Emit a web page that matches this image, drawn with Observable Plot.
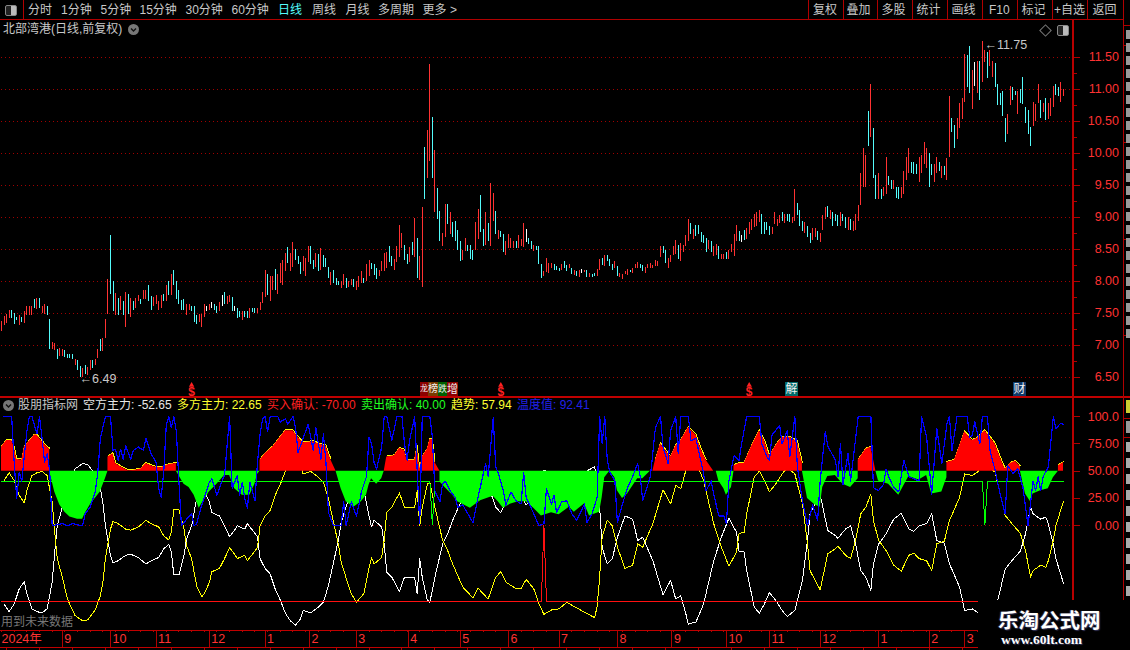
<!DOCTYPE html>
<html><head><meta charset="utf-8">
<script src="https://cdn.jsdelivr.net/npm/d3@7"></script>
<script src="https://cdn.jsdelivr.net/npm/@observablehq/plot@0.6"></script>
<style>
html,body{margin:0;background:#000;overflow:hidden}
#page{position:relative;width:1130px;height:650px;background:#000;overflow:hidden;font:12px "Liberation Sans","Noto Sans CJK SC",sans-serif;color:#ccc}
#page svg{position:absolute;left:0}
.t{position:absolute;white-space:pre;line-height:14px}
.b{position:absolute;background:#b00000}
</style></head><body><div id="page"></div>
<script>
const barHigh=[
7.37,7.45,7.48,7.55,7.55,7.50,7.44,7.46,7.44,7.52,7.60,7.61,7.61,7.72,7.73,7.73,7.60,7.64,7.61,7.40,
7.05,7.03,6.93,6.95,6.94,6.91,6.86,6.85,6.85,6.77,6.76,6.66,6.63,6.68,6.65,6.76,6.76,6.78,6.93,7.09,
7.10,7.40,8.02,8.72,8.00,7.81,7.73,7.76,7.69,7.83,7.80,7.73,7.68,7.73,7.77,7.72,7.85,7.86,7.93,7.76,
7.74,7.77,7.69,7.77,7.79,7.94,8.00,8.11,8.16,8.00,7.86,7.70,7.71,7.63,7.64,7.61,7.60,7.46,7.48,7.48,
7.63,7.60,7.64,7.66,7.64,7.61,7.66,7.77,7.83,7.76,7.77,7.74,7.61,7.58,7.52,7.52,7.52,7.52,7.57,
7.58,7.57,7.57,7.66,7.83,8.16,8.11,8.08,8.08,8.19,8.11,8.27,8.32,8.44,8.52,8.44,8.61,8.49,8.38,8.29,
8.38,8.35,8.54,8.54,8.32,8.43,8.41,8.51,8.40,8.36,8.22,8.13,8.16,8.05,8.00,8.00,8.11,8.04,7.99,8.02,
8.02,7.99,8.08,8.15,8.05,8.26,8.33,
8.27,8.26,8.20,8.17,8.31,8.43,8.45,8.54,8.39,8.34,8.54,8.87,8.74,8.56,8.42,8.53,8.60,8.98,8.67,8.39,
9.15,10.09,10.35,11.39,10.56,10.04,9.45,9.09,8.74,9.20,9.20,9.07,8.92,8.93,8.79,8.62,8.48,8.67,8.56,8.56,
8.48,8.92,9.12,9.34,8.81,9.07,8.90,9.53,9.37,9.09,8.79,8.78,8.73,8.62,8.73,8.67,8.62,8.62,8.71,8.65,
8.90,8.81,8.67,8.62,8.56,8.54,8.54,8.26,8.15,8.35,8.28,8.28,8.26,8.23,8.20,8.26,8.31,8.25,8.26,8.20,
8.17,8.15,8.17,8.18,8.17,8.17,8.12,8.10,8.12,8.18,8.34,8.35,8.40,8.40,8.34,8.26,8.31,8.23,8.12,8.10,
8.15,8.18,8.17,8.20,8.26,8.29,8.26,8.25,8.21,8.26,8.28,8.25,8.32,8.31,8.54,8.54,8.48,8.35,8.40,8.54,
8.64,8.56,8.59,8.56,8.71,8.96,8.90,8.81,8.87,8.87,8.76,8.71,8.67,8.64,8.62,8.54,8.57,8.54,8.42,8.42,
8.45,8.48,8.57,8.73,8.87,8.78,
8.72,8.79,8.83,8.92,8.96,9.05,9.07,9.10,9.05,8.92,8.91,8.86,8.84,9.08,8.96,9.03,9.08,9.05,9.04,9.05,
8.99,9.43,9.22,9.10,8.94,8.91,8.85,8.75,8.83,8.83,8.77,8.75,9.02,9.15,9.16,9.11,9.07,9.04,9.03,9.07,
9.04,8.99,8.99,8.97,8.94,9.04,9.18,9.68,10.08,9.96,10.65,11.07,10.38,9.65,9.69,9.43,9.47,9.94,9.63,9.57,
9.57,9.47,9.47,9.47,9.72,9.93,10.07,9.85,9.85,9.83,9.93,9.96,10.16,10.07,9.99,9.82,9.82,9.94,9.86,9.80,
9.79,9.91,10.88,10.55,10.44,10.54,10.77,10.85,11.54,11.52,11.66,11.30,11.41,11.43,11.43,11.75,11.61,11.58,11.60,11.43,
11.40,11.08,10.93,10.96,10.54,10.61,11.04,11.02,10.96,10.97,10.99,11.18,10.71,10.66,10.40,10.79,10.76,11.08,10.82,10.77,
10.86,10.77,10.85,11.04,11.07,11.02,11.10,10.99];
const barLow=[
7.22,7.31,7.34,7.41,7.41,7.32,7.38,7.31,7.36,7.34,7.47,7.47,7.47,7.57,7.56,7.57,7.50,7.48,7.47,6.94,
6.94,6.92,6.77,6.82,6.82,6.81,6.80,6.80,6.78,6.68,6.60,6.49,6.49,6.55,6.52,6.60,6.64,6.69,6.79,6.90,
6.90,7.11,7.48,7.80,7.52,7.47,7.46,7.54,7.46,7.28,7.48,7.43,7.55,7.57,7.68,7.63,7.72,7.72,7.68,7.55,
7.61,7.64,7.54,7.58,7.68,7.69,7.77,7.77,7.94,7.72,7.64,7.54,7.55,7.47,7.54,7.52,7.36,7.32,7.36,7.28,
7.44,7.52,7.54,7.57,7.55,7.50,7.52,7.61,7.63,7.63,7.66,7.52,7.52,7.41,7.44,7.38,7.44,7.41,7.41,
7.51,7.49,7.49,7.54,7.65,7.74,7.77,7.68,7.86,7.86,7.80,7.97,7.94,8.15,8.27,8.15,8.22,8.32,8.26,8.10,
8.15,8.08,8.29,8.26,8.19,8.21,8.15,8.16,8.22,8.21,8.04,7.94,7.97,7.94,7.93,7.89,7.93,7.88,7.90,7.94,
7.90,7.86,7.90,7.97,7.96,8.00,8.08,
8.18,8.09,8.03,8.07,8.15,8.15,8.20,8.29,8.23,8.17,8.29,8.37,8.51,8.32,8.26,8.29,8.40,8.37,8.04,8.01,
7.90,9.28,9.60,9.87,9.60,9.07,8.96,8.62,8.54,8.68,8.89,8.73,8.68,8.62,8.48,8.31,8.32,8.46,8.46,8.34,
8.32,8.48,8.65,8.76,8.54,8.56,8.62,8.54,8.93,8.73,8.65,8.68,8.45,8.40,8.51,8.51,8.51,8.51,8.51,8.54,
8.53,8.60,8.57,8.49,8.46,8.48,8.26,8.04,8.07,8.14,8.12,8.20,8.17,8.17,8.15,8.17,8.20,8.15,8.20,8.10,
8.09,8.07,8.06,8.12,8.14,8.06,8.06,8.06,8.07,8.07,8.17,8.24,8.23,8.31,8.23,8.17,8.20,8.07,8.06,8.03,
8.10,8.09,8.14,8.12,8.20,8.20,8.20,8.15,8.12,8.20,8.20,8.20,8.23,8.23,8.37,8.43,8.28,8.20,8.29,8.40,
8.42,8.34,8.31,8.45,8.54,8.62,8.73,8.65,8.70,8.73,8.60,8.59,8.45,8.50,8.45,8.39,8.40,8.34,8.34,8.34,
8.34,8.34,8.45,8.39,8.62,8.62,
8.61,8.63,8.65,8.73,8.80,8.84,8.86,8.92,8.73,8.73,8.79,8.72,8.73,8.89,8.86,8.90,8.94,8.90,8.93,8.91,
8.90,8.94,9.02,8.86,8.77,8.75,8.69,8.59,8.63,8.69,8.63,8.61,8.79,8.97,9.00,8.96,8.86,8.94,8.86,8.85,
8.93,8.82,8.79,8.80,8.77,8.80,8.93,9.18,9.47,9.46,10.11,10.24,9.60,9.27,9.27,9.27,9.33,9.35,9.49,9.44,
9.43,9.29,9.27,9.29,9.36,9.57,9.69,9.68,9.66,9.66,9.54,9.68,9.83,9.76,9.47,9.65,9.55,9.68,9.72,9.60,
9.65,9.57,9.94,10.33,10.08,10.21,10.38,10.52,10.79,11.02,10.93,10.68,11.05,10.93,10.82,11.10,11.41,11.16,11.35,11.18,
11.02,10.74,10.74,10.58,10.16,10.29,10.74,10.82,10.90,10.61,10.77,10.76,10.46,10.30,10.11,10.41,10.49,10.77,10.54,10.63,
10.51,10.52,10.57,10.72,10.90,10.88,10.80,10.88];
// u = up day, d = down day, f = flat day
const barMove=[
"uuuudddudu","uuududuudd","uuduuddddu","dduduuduud","uuuddududu","duduuduudd","uuuudududd","ddduuddduu","ufufddufdu","udfdduddu",
"dduuuuduud","uuuuduuddd","uuuddududd","duddduuduu","duuuduu",
"ddduuuuddu","uuuddududu","uduududduu","dudddduudd","duudduduud","udduuuuduu","ufdduddduu","uuddduddud","udufududdu","ududdduduu","uuduuudduu","uuuuudduuu","uduuuududd","ddduduuduu","duuuud",
"fduuuuuudd","dduuuududd","uudddudduu","duuududddu","dduduuuuuu","dudduduudd","udduuuuddd","uuuudduudu","duudduuuud","dufuduuduu","ddddduuddu","ddddduuudu","duuudduu"
].join("").split("");
const priceTicks=[6.5,7,7.5,8,8.5,9,9.5,10,10.5,11,11.5];
const priceMinorTicks=[6.75,7.25,7.75,8.25,8.75,9.25,9.75,10.25,10.75,11.25];
const indicatorTicks=[0,25,50,75,100];
const signalDays=[75,197,295];

const longShortDay=[1,3,5,7,9,10,12,14,16,18,20,21,22,24,26,29,32,34,37,39,40,41,43,44,46,49,51,54,57,59,62,64,66,67,68,70,72,73,75,77,79,80,82,83,86,88,90,92,93,96,97,100,101,102,104,106,108,110,112,114,116,118,119,122,125,127,129,131,133,134,136,138,140,143,145,
146,147,150,151,152,154,157,159,163,164,165,166,168,169,171,174,176,178,182,186,188,192,195,197,199,203,205,207,210,212,214,217,220,223,226,230,234,235,236,237,239,241,243,246,249,251,253,257,261,264,266,268,270,271,274,277,281,284,287,290,
291,293,294,297,299,301,303,306,308,310,313,316,318,319,321,323,326,329,330,333,335,337,339,341,343,344,346,349,352,355,358,360,362,365,367,369,372,374,375,378,380,383,385,388,392,394,396,399,402,404,406,407,410,412,413,415,416,419];
const longForce=[41.5,48.5,41.5,27.7,21,32,46,48.5,49.7,46,21.6,-5.8,-30,-47,-67,-82,-87,-86,-77,-64,-51.5,-30,-3,4,2,-3,-4,-1,5,2,-1,-9,-13,-6,15,15,-3,-18,-30,-55,-65,-62,-52,-42,-39,-30,-20,-26,-30,-27,-32,-23,-20,0,9,14,28,38,50,57,61,55,47.5,49.7,44.5,40,24.7,3.4,-18,-33,-48,-62,-70,-62,-39,
-29,-35,-29,-13,12.5,17,30,17,17,32,0,17,38,40,17,-13,-22.5,-35,-56,-66,-57,-67,-47,-42,-51.5,-57.6,-57.6,-49,-57.6,-71,-81,-77,-76,-70,-74,-79,-84,-74,-47,-10,5,0,-19.5,-39,-36,-16.5,-19.5,2,33,20,37,34,50.6,60,58,41.5,2,-19.5,-37,-24,
-7,-6,11,44.5,50,41.5,31,40,47.5,53,47.5,20,-16.5,-41,-50,-58.5,-25.6,-21,-18.6,-27,-30,-13,11,17,29,5,-13,-22.6,-36,-41.5,-27,-25,-30,-32,-41,-16.5,-14,5,10,26,47.5,46,49,57,49,29,9.5,1,-7,-22.6,-47,-41,-36,-38,-32,-13,0,22.65];
const shortForce=[-71.5,-78.5,-71.5,-57.7,-51,-62,-76,-78.5,-79.7,-76,-51.6,-24.2,0,17,37,52,57,56,47,34,21.5,0,-27,-34,-32,-27,-26,-29,-35,-32,-29,-21,-17,-24,-45,-45,-27,-12,0,25,35,32,22,12,9,0,-10,-4,0,-3,2,-7,-10,-30,-39,-44,-58,-68,-80,-87,-91,-85,-77.5,-79.7,-74.5,-70,-54.7,-33.4,-12,3,18,32,40,32,9,
-1,5,-1,-17,-42.5,-47,-60,-47,-47,-62,-30,-47,-68,-70,-47,-17,-7.5,5,26,36,27,37,17,12,21.5,27.6,27.6,19,27.6,41,51,47,46,40,44,49,54,44,17,-20,-35,-30,-10.5,9,6,-13.5,-10.5,-32,-63,-50,-67,-64,-80.6,-90,-88,-71.5,-32,-10.5,7,-6,
-23,-24,-41,-74.5,-80,-71.5,-61,-70,-77.5,-83,-77.5,-50,-13.5,11,20,28.5,-4.4,-9,-11.4,-3,0,-17,-41,-47,-59,-35,-17,-7.4,6,11.5,-3,-5,0,2,11,-13.5,-16,-35,-40,-56,-77.5,-76,-79,-87,-79,-59,-39.5,-31,-23,-7.4,17,11,6,8,2,-17,-30,-52.65];

const trendDay=[0,2,4,5,6,8,9,12,13,14,16,18,19,19,21,23,25,27,30,32,33,35,37,39,41,42,42,44,45,47,50,52,55,57,60,63,66,69,69,72,74,76,78,79,82,85,88,90,92,95,98,100,101,102,102,104,107,110,112,115,117,119,123,125,128,130,132,134,136,139,142,144,145,146,148,150,151,152,155,157,159,160,163,164,165,166,168,169,170,171,173,173,175,178,180,185,189,194,196,198,201,204,207,210,213,217,220,224,226,230,232,236,237,238,240,242,243,245,247,251,253,256,257,258,260,262,264,266,268,271,274,276,278,281,282,283,285,286,288,289,289,291,293,296,299,301,303,306,308,311,314,316,316,318,321,323,324,326,329,332,335,338,338,338,341,343,345,346,350,354,358,362,365,367,371,373,373,373,376,380,383,385,388,392,395,396,398,400,402,402,404,406,407,410,413,415,417,417,419];
const trendValue=[72,78,78,72,61,60,72,80,83,83,77,72,70,50,31,19,12.5,8,6,6,11,19,25,31,43,50,63,66,57,54,50.3,50.5,52,57,54,53,56,57,50,38,35,28,16,20,31,38,46,46,34,28,28,38,47,50,60,66,72,81,87,87,81,76,77,75,73,60,50,34,22,17,22,28,37,43,38,43,50,63,64,71,69,60,60,73,52,63,70,79,79,58,50,40,35,28,22,16,23,27,22,16,20,22,22,16,9,12,10,17,12.5,20,9,12.5,26,44,50,44,32,25,29,43,43,50,50,60,75,69,63,73,78,90,83,70,60,50,50,41,34,28,35,50,55,57,57,73,87,78,64,75,81,81,77,57,50,25,19,17,35,45,46,38,35,43,50,60,70,72,50,41,38,28,45,42,46,29,31,44,50,58,60,86,78,80,87,75,57,52,57,59,54,50,29,22,29,32,34,44,50,55,57.94];

const heatDay=[1,4,5,6,7,8,9,10,11,12,14,15,16,17,18,19,20,24,26,28,32,33,35,37,38,39,41,43,44,45,46,47,48,49,51,52,54,56,57,59,61,62,63,64,65,66,67,68,69,70,71,73,75,76,77,79,82,83,85,87,88,89,90,91,93,94,95,96,97,98,100,101,102,103,104,105,106,109,110,112,113,115,116,117,119,121,123,124,126,127,128,129,131,134,135,136,138,140,141,142,144,145,
146,147,148,150,151,152,154,156,158,159,160,161,163,165,166,169,170,171,173,174,175,177,179,180,182,184,186,188,191,192,194,195,196,198,199,201,203,205,206,207,210,212,214,215,217,218,219,221,223,225,227,230,231,233,235,236,237,238,239,240,242,243,245,247,249,251,252,253,256,258,260,261,263,264,266,267,268,271,272,274,275,277,278,280,281,283,285,286,287,289,291,
292,294,299,300,302,303,304,307,308,310,311,313,314,316,318,320,322,323,325,326,329,330,331,332,334,335,338,343,344,346,348,349,350,352,354,356,358,360,362,363,365,367,369,371,373,374,375,377,381,382,383,384,386,387,389,390,392,394,396,397,399,401,403,405,407,408,409,410,411,413,415,416,418,419];
const heatValue=[100,100,58,25,49,41,64,86,100,100,84,100,80,58,66,51,0,2,0,2,0,11,17,31,49,80,100,100,69,70,60,70,61,73,61,69,72,69,80,66,58,34,26,49,92,100,90,100,86,40,0,6,11,0,2,19,40,43,28,41,46,73,100,34,46,28,40,25,16,40,23,58,83,98,100,86,100,100,95,98,93,100,90,67,80,93,69,90,61,84,58,12,0,0,22,0,22,9,19,31,45,81,
75,58,52,72,100,100,78,100,100,75,60,78,100,2,100,100,81,32,22,38,41,32,26,17,19,11,3,26,57,45,99,54,48,32,19,31,23,20,49,26,11,0,2,34,20,28,12,22,23,11,5,20,3,11,26,100,75,100,60,49,41,3,20,35,45,57,45,23,45,90,100,72,57,87,100,66,100,100,78,80,69,48,32,41,29,9,9,2,41,64,60,
75,100,100,75,63,60,83,92,75,87,63,100,54,23,0,19,5,41,86,73,60,45,75,38,66,41,100,100,35,32,38,52,45,35,31,60,45,43,41,100,81,29,89,57,93,100,69,100,100,81,83,95,75,100,100,69,51,29,11,55,48,52,35,0,41,32,45,32,45,54,100,89,94,92.41];

const buyDay=[0,213,214,215,419];
const buyConfirm=[-70,-70,0,-70,-70];
const sellDay=[0,169,170,171,387,388,389,419];
const sellConfirm=[40,40,0,40,40,0,40,40];

const monthDay=[24,43,61,82,104,121.5,140,160.5,181,200,220,243,264.5,286,303,323,346,366,380];
const monthLabel=["9","10","11","12","1","2","3","4","5","6","7","8","9","10","11","12","1","2","3"];

const LAST=419;
const bars=barHigh.map((h,i)=>({day:i,high:h,low:barLow[i],move:barMove[i]||"u"}));
const zipDV=(d,v)=>d.map((x,i)=>({day:x,v:v[i]}));
const xOpt={domain:[0,LAST],range:[1,1063],axis:null};
const RED="#ff3232",LINE="#b00000",GRID="#a00000";
const crisp={shapeRendering:"crispEdges"};
const base={width:1130,marginLeft:0,marginRight:57,marginTop:0,marginBottom:0,
  style:{background:"transparent",color:"#ccc",fontFamily:'"Liberation Sans","Noto Sans CJK SC",sans-serif',fontSize:"12px",overflow:"visible"}};

const priceChart=Plot.plot({...base,height:396,
  x:xOpt,y:{domain:[6.5,11.5],range:[376.7,56.7],axis:null},
  color:{domain:["u","d","f"],range:["#ff3232","#54fcfc","#ffffff"]},
  marks:[
    Plot.ruleY(priceTicks,{x1:0,x2:LAST+4,stroke:GRID,strokeDasharray:"1,3",...crisp}),
    Plot.axisY(priceMinorTicks,{anchor:"right",label:null,tickSize:3,stroke:LINE,tickFormat:()=>"",...crisp}),
    Plot.axisY(priceTicks,{anchor:"right",label:null,tickSize:5.5,tickPadding:40,textAnchor:"end",stroke:LINE,fill:RED,tickFormat:d=>d.toFixed(2),fontSize:12.5,...crisp}),
    Plot.ruleX(bars,{x:"day",y1:"low",y2:"high",stroke:"move",strokeWidth:1,...crisp}),
    Plot.text([{day:32,p:6.49,s:"←6.49"}],{x:"day",y:"p",text:"s",textAnchor:"start",fill:"#c8c8c8",fontSize:12.5,dx:-3,dy:1}),
    Plot.text([{day:387,p:11.75,s:"←11.75"}],{x:"day",y:"p",text:"s",textAnchor:"start",fill:"#c8c8c8",fontSize:12.5,dx:2,dy:4}),
    Plot.dot(signalDays,{x:d=>d,y:()=>6.375,symbol:"triangle",r:2,fill:"#ff2020"}),
    Plot.text(signalDays,{x:d=>d,y:()=>6.27,text:()=>"$",fill:"#ff2020",fontSize:12,fontWeight:"bold"})
  ]});

const line=(d,v,o)=>Plot.line(zipDV(d,v),{x:"day",y:"v",strokeWidth:1,...crisp,...o});
const trend=zipDV(trendDay,trendValue);
const indicatorChart=Plot.plot({...base,height:254,
  x:xOpt,y:{domain:[0,100],range:[129.3,20],axis:null},
  marks:[
    Plot.ruleY([0],{x1:0,x2:LAST+4,stroke:GRID,strokeDasharray:"1,3",...crisp}),
    Plot.axisY(indicatorTicks,{anchor:"right",label:null,tickSize:5.5,tickPadding:40,textAnchor:"end",stroke:LINE,fill:RED,tickFormat:d=>d===100?"100.0":d.toFixed(2),fontSize:12.5,...crisp}),
    line(longShortDay,shortForce,{stroke:"#fff"}),
    line(longShortDay,longForce,{stroke:"#ff0"}),
    Plot.line(trend,{x:"day",y:d=>d.v>50?d.v:NaN,stroke:"#ff0",strokeWidth:1,dy:-1,...crisp}),
    Plot.areaY(trend,{x:"day",y1:()=>50,y2:d=>Math.max(d.v,50),fill:"#ff0000"}),
    Plot.areaY(trend,{x:"day",y1:()=>50,y2:d=>Math.min(d.v,50),fill:"#00ff00"}),
    line(sellDay,sellConfirm,{stroke:"#00ff00",dy:-1}),
    line(buyDay,buyConfirm,{stroke:"#ff1010",dy:-1}),
    line(heatDay,heatValue,{stroke:"#0000ff",strokeWidth:1.2}),
    Plot.ruleX(d3.range(0,LAST+10,5),{x:d=>d,y1:()=>-95.8,y2:()=>-98,stroke:LINE,...crisp}),
    Plot.ruleX(d3.range(2,LAST+10,13),{x:d=>d,y1:()=>-111.3,y2:()=>-114,stroke:LINE,...crisp}),
    Plot.ruleX(monthDay,{x:d=>d,y1:()=>-95.8,y2:()=>-111.3,stroke:LINE,...crisp}),
    Plot.text(monthDay,{x:d=>d,y:()=>-103.6,text:(d,i)=>monthLabel[i],dx:2,textAnchor:"start",fill:RED,fontSize:12.5}),
    Plot.text([0],{x:d=>d,y:()=>-103.6,text:()=>"2024年",textAnchor:"start",fill:RED,fontSize:12.5})
  ]});

const page=document.getElementById("page");
priceChart.style.top="0px";indicatorChart.style.top="396px";
page.append(priceChart,indicatorChart);

function txt(s,x,yc,color,extra){const e=document.createElement("div");e.className="t";e.textContent=s;
  e.style.cssText=`left:${x}px;top:${yc-7}px;color:${color||"#ccc"};${extra||""}`;page.append(e);return e;}
function box(x,y,w,h,color){const e=document.createElement("div");e.className="b";
  e.style.cssText=`left:${x}px;top:${y}px;width:${w}px;height:${h}px;background:${color||LINE}`;page.append(e);return e;}
function chevron(cx,cy){const e=document.createElement("div");e.className="b";
  e.style.cssText=`left:${cx-5.5}px;top:${cy-5.5}px;width:11px;height:11px;border-radius:50%;background:#777`;
  e.innerHTML='<svg width="11" height="11" style="position:absolute;left:0;top:0"><path d="M3 4.5L5.5 7L8 4.5" fill="none" stroke="#111" stroke-width="1.4"/></svg>';page.append(e);}
function toggle(x,y){const e=document.createElement("div");e.className="b";
  e.style.cssText=`left:${x}px;top:${y}px;width:10px;height:9px;border:1px solid #888;border-radius:2px;background:linear-gradient(90deg,#222 50%,#bbb 50%)`;page.append(e);}

// frame lines
box(0,19,1123,1);box(0,396,1130,2,"#c00000");box(1072,20,2,580,"#b80000");box(1123,0,1,600);
box(0,630,978,1,"#c00000");box(0,647,978,1,"#c00000");box(23,0,1,19);
[807.5,842.5,876.5,911.5,946.5,981.5,1016.5,1051.5,1086.5].forEach(x=>box(x,0,1,19));
[25,45,142,239,335,418,437].forEach(y=>box(1124,y,6,1));
// toolbar
[["分时",28],["1分钟",61],["5分钟",100.5],["15分钟",139.5],["30分钟",185.5],["60分钟",231.5],["周线",312],["月线",345.5],["多周期",378],["更多",422.5]].forEach(a=>txt(a[0],a[1],10,"#c8c8c8"));
txt("日线",278,10,"#54fcfc");txt(">",450,10,"#c8c8c8");
[["复权",813],["叠加",846.5],["多股",881.5],["统计",916.5],["画线",951.5],["F10",989],["标记",1021.5],["+自选",1054],["返回",1092.5]].forEach(a=>txt(a[0],a[1],10,"#c8c8c8"));
toggle(5,5);toggle(1057,25);
const dia=box(1041,26,7,7,"transparent");dia.style.border="1px solid #777";dia.style.transform="rotate(45deg)";
txt("北部湾港(日线,前复权)",3,29,"#c8c8c8");chevron(133.5,29);
// indicator header
chevron(8,405);
txt("股朋指标网",18,405,"#c8c8c8");txt("空方主力: -52.65",83,405,"#e8e8e8");txt("多方主力: 22.65",177,405,"#ffff30");
txt("买入确认: -70.00",267,405,"#ff2020");txt("卖出确认: 40.00",361,405,"#20ff20");txt("趋势: 57.94",451,405,"#ffff30");txt("温度值: 92.41",517,405,"#2020e8");
txt("用到未来数据",1,622,"#777");
// event badges
[["龙",420,8,"#8b0000"],["榜",428,10,"#7a3a00"],["跌",438,9,"#006000"],["增",447,11,"#8b0000"]].forEach(a=>{
  txt(a[0],a[1],388.5,"#f0f0f0",`background:${a[3]};width:${a[2]}px;height:14px;overflow:hidden;text-align:center;font-size:${a[2]}px`);});
txt("解",785,388.5,"#f0f0f0","background:#006a6a;width:13px;height:14px;text-align:center;overflow:hidden");
txt("财",1013,388.5,"#f0f0f0","background:#103a6a;width:13px;height:14px;text-align:center;overflow:hidden");
// right rail stubs
for(let y=30;y<335;y+=13){if(![38,142,239].includes(y))box(1126,y,4,9,"#999");}
for(let y=442;y<600;y+=16)box(1126,y,4,10,"#aaa");
box(1126,400,4,13,"#cccc30");box(1126,421,4,12,"#999");
// watermark
box(978,600,152,50,"#000");
txt("乐淘公式网",998,619,"#fff","font:bold 20.5px 'Noto Sans CJK SC';line-height:14px;text-shadow:1px 1px 1px #335,-1px 0 1px #335");
txt("www.60lt.com",1001,639,"#fff","font:bold 13.5px 'Liberation Serif';text-shadow:1px 1px 1px #335");
</script>
</body></html>
